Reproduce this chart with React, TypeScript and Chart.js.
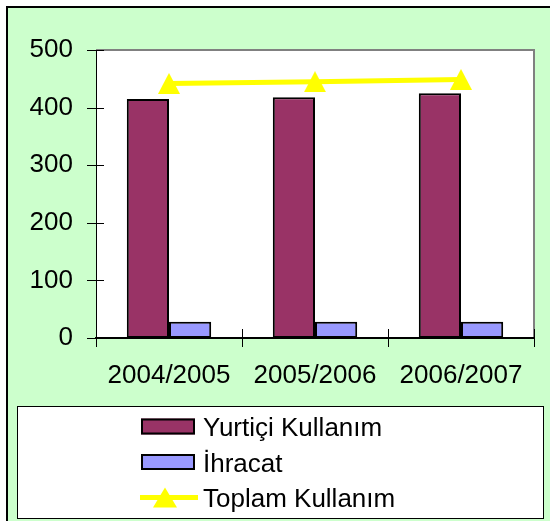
import React, { useEffect, useRef } from 'react';
import { Chart, registerables } from 'chart.js';

Chart.register(...registerables);

const categories = ['2004/2005', '2005/2006', '2006/2007'];
const yurticiValues = [415, 418, 425];
const ihracatValues = [28, 28, 28];
const toplamValues = [442, 445, 449];
const seriesLabels = ['Yurtiçi Kullanım', 'İhracat', 'Toplam Kullanım'];
const yMin = 0;
const yMax = 500;
const yStep = 100;

const FONT = "'Liberation Sans', Arial, sans-serif";
const W = 550;
const H = 521;

function makeTriangle(w: number, h: number, color: string) {
  const c = document.createElement('canvas');
  c.width = w;
  c.height = h;
  const ctx = c.getContext('2d')!;
  ctx.fillStyle = color;
  ctx.beginPath();
  ctx.moveTo(w / 2, 0);
  ctx.lineTo(w, h);
  ctx.lineTo(0, h);
  ctx.closePath();
  ctx.fill();
  return c;
}

export default function App() {
  const ref = useRef<HTMLCanvasElement | null>(null);

  useEffect(() => {
    if (!ref.current) return;
    const tri = makeTriangle(22, 21, '#FFFF00');

    const bgPlugin = {
      id: 'bg',
      beforeDraw(chart: any) {
        const ctx = chart.ctx;
        const a = chart.chartArea;
        ctx.save();
        ctx.fillStyle = '#ffffff';
        ctx.fillRect(0, 0, W, H);
        ctx.fillStyle = '#CCFFCC';
        ctx.fillRect(7, 7, W - 7, H - 7);
        ctx.strokeStyle = '#000';
        ctx.lineWidth = 2;
        ctx.beginPath();
        ctx.moveTo(7, H);
        ctx.lineTo(7, 7);
        ctx.lineTo(W, 7);
        ctx.stroke();
        ctx.fillStyle = '#ffffff';
        ctx.fillRect(a.left, a.top, a.right - a.left, a.bottom - a.top);
        ctx.strokeStyle = '#808080';
        ctx.lineWidth = 2;
        ctx.beginPath();
        ctx.moveTo(a.left, a.top);
        ctx.lineTo(a.right, a.top);
        ctx.lineTo(a.right, a.bottom);
        ctx.stroke();
        ctx.restore();
      },
      afterDraw(chart: any) {
        const ctx = chart.ctx;
        const a = chart.chartArea;
        const ys = chart.scales.y;
        ctx.save();
        ctx.strokeStyle = '#000';
        ctx.lineWidth = 1;
        // y tick marks crossing the axis
        ys.ticks.forEach((t: any) => {
          const y = Math.round(ys.getPixelForValue(t.value)) + 0.5;
          ctx.beginPath();
          ctx.moveTo(a.left - 9, y);
          ctx.lineTo(a.left + 8, y);
          ctx.stroke();
        });
        // x tick marks at category boundaries
        const n = categories.length;
        for (let i = 0; i <= n; i++) {
          const x = Math.round(a.left + (i * (a.right - a.left)) / n) + 0.5;
          ctx.beginPath();
          ctx.moveTo(x, i === 0 ? a.bottom : a.bottom - 9);
          ctx.lineTo(x, a.bottom + 9);
          ctx.stroke();
        }
        // legend
        ctx.fillStyle = '#ffffff';
        ctx.fillRect(17, 406, 526, 112);
        ctx.strokeStyle = '#000';
        ctx.lineWidth = 1;
        ctx.strokeRect(17.5, 406.5, 526, 112);
        ctx.font = '26px ' + FONT;
        ctx.textBaseline = 'alphabetic';
        ctx.textAlign = 'left';
        chart.data.datasets.forEach((ds: any, i: number) => {
          const rowY = 426.5 + 35.5 * i;
          if (ds.type === 'bar') {
            ctx.fillStyle = ds.backgroundColor;
            ctx.fillRect(141, rowY - 8, 54, 16);
            ctx.strokeStyle = '#000';
            ctx.lineWidth = 2;
            ctx.strokeRect(142, rowY - 7, 52, 14);
          } else {
            ctx.strokeStyle = ds.borderColor;
            ctx.lineWidth = 5;
            ctx.beginPath();
            ctx.moveTo(140, rowY);
            ctx.lineTo(198, rowY);
            ctx.stroke();
            ctx.fillStyle = ds.borderColor;
            ctx.beginPath();
            ctx.moveTo(165, rowY - 10);
            ctx.lineTo(177, rowY + 10);
            ctx.lineTo(153, rowY + 10);
            ctx.closePath();
            ctx.fill();
          }
          ctx.fillStyle = '#000';
          ctx.fillText(ds.label, 203, rowY + 9.5);
        });
        ctx.restore();
      },
    };

    const chart = new Chart(ref.current, {
      type: 'bar',
      data: {
        labels: categories,
        datasets: [
          {
            type: 'bar',
            label: seriesLabels[0],
            data: yurticiValues,
            backgroundColor: '#993366',
            borderColor: '#000000',
            borderWidth: 2,
            borderSkipped: false,
            barPercentage: 1,
            categoryPercentage: 0.578,
            order: 1,
          },
          {
            type: 'bar',
            label: seriesLabels[1],
            data: ihracatValues,
            backgroundColor: '#9999FF',
            borderColor: '#000000',
            borderWidth: 2,
            borderSkipped: false,
            barPercentage: 1,
            categoryPercentage: 0.578,
            order: 1,
          },
          {
            type: 'line',
            label: seriesLabels[2],
            data: toplamValues,
            borderColor: '#FFFF00',
            backgroundColor: '#FFFF00',
            borderWidth: 5,
            tension: 0,
            fill: false,
            pointStyle: tri as any,
            pointRadius: 11,
            order: 0,
          } as any,
        ],
      },
      options: {
        responsive: false,
        animation: false,
        devicePixelRatio: 1,
        layout: { padding: { left: 0, top: 50, right: 13, bottom: 123 } },
        plugins: { legend: { display: false }, tooltip: { enabled: false } },
        scales: {
          x: {
            type: 'category',
            offset: true,
            grid: { display: false, drawTicks: false },
            border: { display: true, color: '#000', width: 2 },
            ticks: {
              color: '#000',
              font: { family: FONT, size: 26 },
              padding: 22,
              maxRotation: 0,
              autoSkip: false,
            },
            afterFit(scale: any) {
              scale.height = 60;
            },
          },
          y: {
            min: yMin,
            max: yMax,
            grid: { display: false, drawTicks: false },
            border: { display: true, color: '#000', width: 1 },
            ticks: {
              stepSize: yStep,
              color: '#000',
              font: { family: FONT, size: 26 },
              padding: 23,
            },
            afterFit(scale: any) {
              scale.width = 96;
            },
          },
        },
      },
      plugins: [bgPlugin],
    } as any);

    return () => chart.destroy();
  }, []);

  return (
    <div style={{ position: 'absolute', left: 0, top: 0, width: W, height: H }}>
      <canvas ref={ref} width={W} height={H} style={{ display: 'block', width: W, height: H }} />
    </div>
  );
}
